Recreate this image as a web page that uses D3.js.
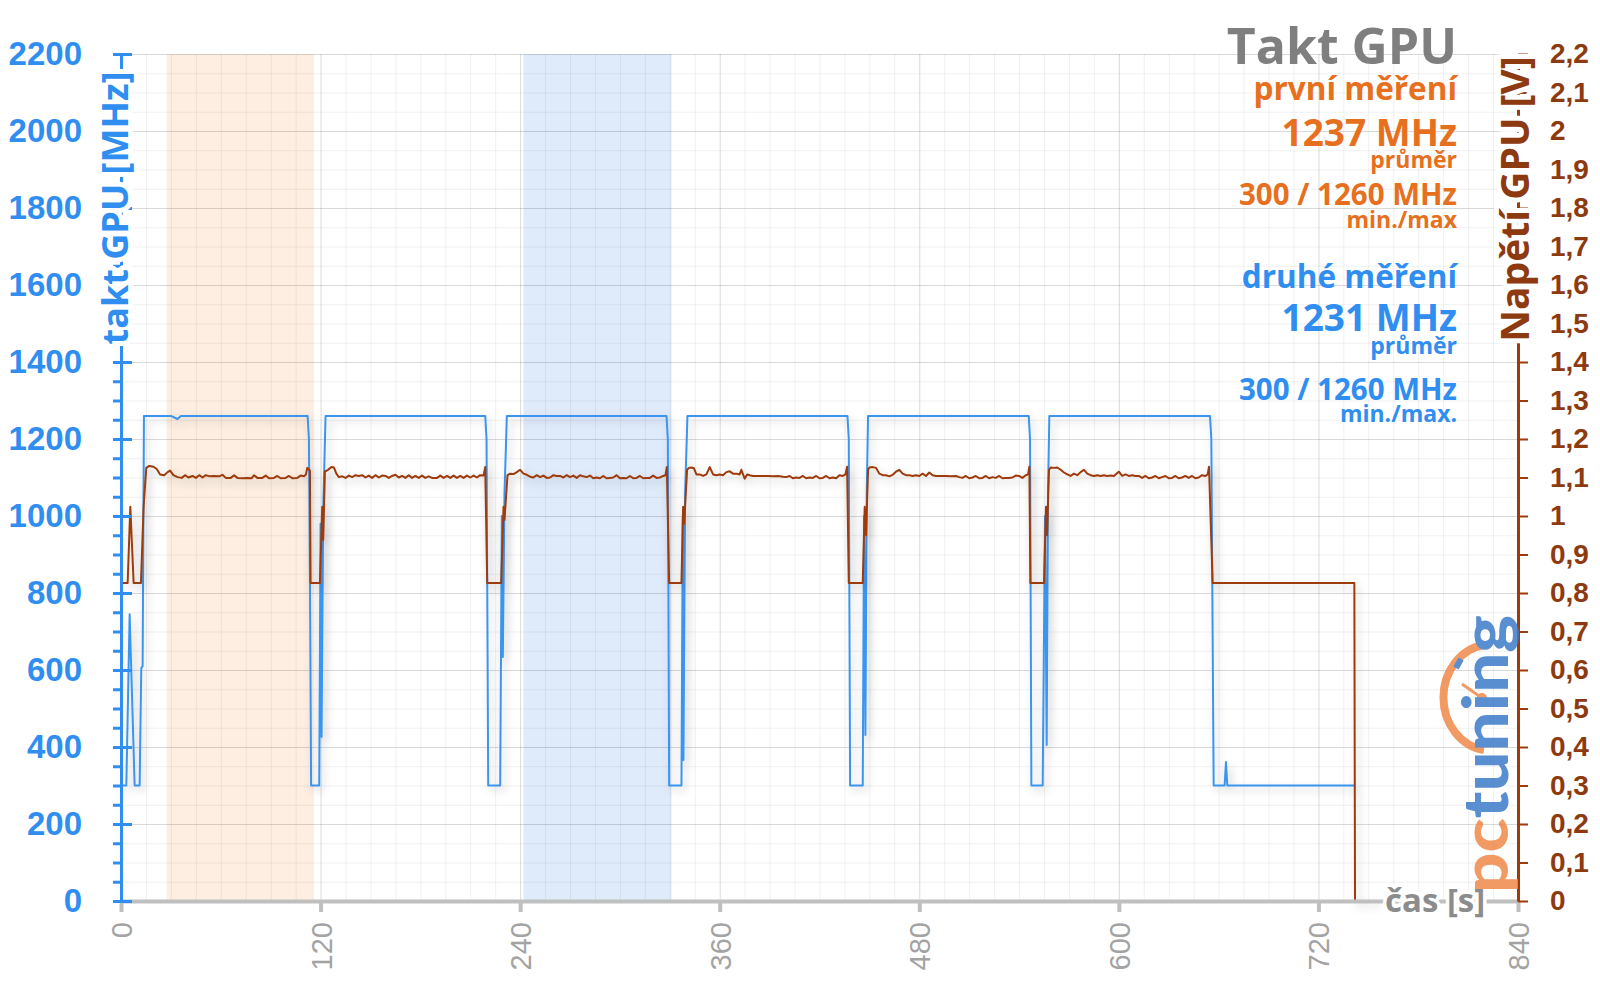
<!DOCTYPE html>
<html>
<head>
<meta charset="utf-8">
<script src="https://cdn.jsdelivr.net/npm/d3@7"></script>
<style>
body { margin: 0; background: #fff; }
svg { display: block; font-family: "Open Sans", sans-serif; }
</style>
</head>
<body>
<div id="chart"></div>
<script>
// data
var timeTicks = [0, 120, 240, 360, 480, 600, 720, 840];
var clockTicks = [0, 200, 400, 600, 800, 1000, 1200, 1400, 1600, 1800, 2000, 2200];
var voltTicks = [0, 0.1, 0.2, 0.3, 0.4, 0.5, 0.6, 0.7, 0.8, 0.9, 1, 1.1, 1.2, 1.3, 1.4, 1.5, 1.6, 1.7, 1.8, 1.9, 2, 2.1, 2.2];
var shadedRuns = [[27.5, 116, 'orange'], [242, 331, 'blue']];

// takt GPU [MHz], druhé měření
var clockPoints = [
  [0, 300], [3.2, 300], [5.2, 745], [8.2, 300], [11.2, 300], [12.2, 605], [13.0, 610], [13.8, 1260],
  [30, 1260], [34, 1252], [36, 1260],
  [112.2, 1260], [113.0, 1200], [113.8, 700], [114.3, 300], [119.2, 300], [120.0, 980], [120.6, 426], [121.6, 1020], [123.0, 1260],
  [219.0, 1260], [219.8, 1200], [220.8, 300], [228.0, 300], [229.0, 1000], [229.6, 634], [230.6, 1060], [232.0, 1260],
  [328.0, 1260], [328.8, 1200], [329.6, 300], [337.0, 300], [337.8, 1000], [338.2, 366], [339.2, 1060], [340.6, 1260],
  [436.8, 1260], [437.6, 1200], [438.4, 300], [446.0, 300], [446.8, 1000], [447.6, 431], [448.4, 1060], [449.2, 1260],
  [545.8, 1260], [546.6, 1200], [547.4, 300], [554.2, 300], [555.6, 1000], [556.6, 405], [557.4, 1060], [558.2, 1260],
  [654.8, 1260], [655.6, 1200], [657.0, 300], [663.6, 300], [664.4, 361], [665.2, 300], [741.6, 300]
];

// Napětí GPU [V]
var voltPoints = [
  [0, 0.826], [4.0, 0.826], [5.6, 1.024], [7.6, 0.826], [12.0, 0.826], [13.6, 1.025], [15.2, 1.125],
  [17, 1.13], [19.5, 1.128], [21.5, 1.122], [23.5, 1.108], [26, 1.106], [28, 1.114], [29.5, 1.118], [31.5, 1.106],
  [34, 1.101], [36.5, 1.099], [38.5, 1.106], [40.5, 1.100], [43, 1.104], [45, 1.099], [47, 1.106], [49, 1.100],
  [51, 1.106], [53.5, 1.103], [56, 1.104], [59, 1.103], [61, 1.107], [63, 1.099], [66, 1.099], [68, 1.106],
  [70, 1.099], [73, 1.098], [76, 1.099], [78.5, 1.098], [80, 1.106], [82, 1.099], [85, 1.099], [87, 1.105],
  [89, 1.098], [92, 1.099], [94, 1.104], [96, 1.098], [99, 1.099], [101, 1.104], [103, 1.098], [106, 1.099],
  [108, 1.105], [110, 1.103], [111.2, 1.108], [112, 1.125], [113.6, 1.118], [114, 0.826],
  [119.6, 0.826], [121, 1.024], [121.6, 0.938], [122.6, 1.115], [124.5, 1.12], [126.5, 1.127], [128, 1.126],
  [129.5, 1.11], [131, 1.101], [133, 1.103], [135, 1.099], [137, 1.105], [139, 1.101], [141, 1.106], [143, 1.104],
  [145, 1.106], [147, 1.100], [149, 1.105], [151, 1.099], [153, 1.106], [155, 1.100], [157, 1.105], [159, 1.104],
  [161, 1.099], [163, 1.104], [165, 1.107], [167, 1.100], [169, 1.104], [171, 1.099], [173, 1.106], [175, 1.099],
  [177, 1.104], [179, 1.099], [181, 1.105], [183, 1.099], [185, 1.103], [187, 1.099], [190, 1.099], [192, 1.105],
  [194, 1.099], [196, 1.104], [198, 1.099], [200, 1.105], [202, 1.099], [204, 1.104], [206, 1.099], [208, 1.105],
  [210, 1.100], [212, 1.105], [214, 1.100], [216, 1.106], [218, 1.105], [219, 1.127], [220.2, 0.826],
  [228.6, 0.826], [230, 1.024], [230.6, 0.99], [232.4, 1.106], [234, 1.110], [236, 1.109], [238, 1.114],
  [240, 1.120], [242, 1.110], [244, 1.107], [246, 1.102], [248, 1.100], [250, 1.106], [252, 1.101], [254, 1.105],
  [256, 1.099], [258, 1.100], [260, 1.106], [262, 1.104], [264, 1.104], [266, 1.100], [268, 1.106], [270, 1.101],
  [272, 1.105], [274, 1.099], [276, 1.106], [278, 1.103], [280, 1.101], [282, 1.105], [284, 1.098], [286, 1.100],
  [288, 1.098], [290, 1.104], [292, 1.098], [294, 1.099], [296, 1.100], [298, 1.106], [300, 1.098], [302, 1.099],
  [304, 1.098], [306, 1.104], [308, 1.098], [310, 1.099], [312, 1.104], [314, 1.098], [316, 1.099], [318, 1.099],
  [320, 1.105], [322, 1.099], [324, 1.100], [326, 1.104], [327.4, 1.106], [328.2, 1.127], [329.6, 0.826],
  [337, 0.826], [338, 1.024], [338.6, 0.98], [340.4, 1.12], [341.5, 1.125], [343, 1.126], [344.5, 1.124],
  [346, 1.108], [348, 1.108], [350, 1.104], [352, 1.108], [354, 1.127], [356, 1.108], [358, 1.106], [360, 1.108],
  [362, 1.106], [364, 1.114], [366, 1.116], [368, 1.110], [370, 1.110], [372, 1.108], [373, 1.120], [375, 1.097],
  [376.5, 1.108], [378, 1.106], [380, 1.104], [383, 1.104], [386, 1.104], [389, 1.104], [392, 1.103], [395, 1.104],
  [398, 1.102], [400, 1.101], [402, 1.104], [404, 1.098], [406, 1.100], [408, 1.099], [410, 1.104], [412, 1.098],
  [414, 1.100], [416, 1.099], [418, 1.104], [420, 1.098], [422, 1.099], [424, 1.104], [426, 1.098], [428, 1.100],
  [430, 1.098], [432, 1.106], [434, 1.104], [435.6, 1.108], [436.6, 1.128], [437.6, 0.826],
  [446, 0.826], [447.2, 1.024], [448, 0.95], [449.2, 1.12], [450, 1.126], [452, 1.127], [454, 1.125], [456, 1.110],
  [458, 1.106], [460, 1.106], [462, 1.103], [464, 1.107], [466, 1.115], [468, 1.120], [470, 1.110], [472, 1.106],
  [474, 1.106], [476, 1.104], [478, 1.106], [480, 1.104], [482, 1.110], [484, 1.104], [486, 1.113], [488, 1.106],
  [490, 1.104], [493, 1.104], [496, 1.104], [499, 1.103], [502, 1.104], [504, 1.101], [506, 1.099], [508, 1.104],
  [510, 1.098], [512, 1.100], [514, 1.104], [516, 1.098], [518, 1.099], [520, 1.104], [522, 1.098], [524, 1.101],
  [526, 1.099], [528, 1.104], [530, 1.098], [532, 1.099], [534, 1.099], [536, 1.100], [538, 1.105], [540, 1.104],
  [542, 1.099], [544, 1.106], [545.4, 1.108], [546.2, 1.128], [546.8, 0.826],
  [555, 0.826], [556.2, 1.024], [556.8, 0.95], [558, 1.12], [559, 1.126], [561, 1.125], [563, 1.126], [565, 1.120],
  [567, 1.113], [569, 1.108], [571, 1.104], [573, 1.110], [575, 1.106], [577, 1.114], [579, 1.120], [581, 1.110],
  [583, 1.106], [585, 1.104], [587, 1.106], [589, 1.104], [591, 1.106], [593, 1.104], [595, 1.105], [597, 1.104],
  [600, 1.115], [602, 1.104], [604, 1.108], [606, 1.104], [608, 1.106], [610, 1.104], [612, 1.104], [614, 1.099],
  [616, 1.104], [618, 1.098], [620, 1.100], [622, 1.104], [624, 1.098], [626, 1.101], [628, 1.104], [630, 1.098],
  [632, 1.099], [634, 1.104], [636, 1.098], [638, 1.100], [640, 1.104], [642, 1.099], [644, 1.104], [646, 1.098],
  [648, 1.100], [650, 1.106], [652, 1.104], [653.4, 1.108], [654.2, 1.128], [656.4, 0.826],
  [741.6, 0.826], [742, 0], [756, 0]
];

var blue = '#2f8ef0', blueLine = '#3a95ef', brown = '#9e3b0b', brownText = '#8e3a10',
    orange = '#e6701e', grey = '#7f7f7f';

var width = 1600, height = 999;
var margin = {top: 54, right: 82, bottom: 98, left: 121};
var plotW = width - margin.left - margin.right;
var plotH = height - margin.top - margin.bottom;

var svg = d3.select('#chart').append('svg')
  .attr('width', width)
  .attr('height', height);

var defs = svg.append('defs');
defs.append('filter').attr('id', 'shadow')
  .attr('x', '-2%').attr('y', '-5%').attr('width', '106%').attr('height', '115%')
  .append('feDropShadow')
  .attr('dx', 3).attr('dy', 4).attr('stdDeviation', 4)
  .attr('flood-color', '#000').attr('flood-opacity', 0.22);

var x = d3.scaleLinear().domain([0, 840]).range([0, plotW]);
var yClock = d3.scaleLinear().domain([0, 2200]).range([plotH, 0]);
var yVolt = d3.scaleLinear().domain([0, 2.2]).range([plotH, 0]);

var g = svg.append('g')
  .attr('transform', 'translate(' + margin.left + ',' + margin.top + ')');

// shaded measurement windows
g.selectAll('.run')
  .data(shadedRuns)
  .enter().append('rect')
  .attr('x', function(d) { return x(d[0]); })
  .attr('y', 0)
  .attr('width', function(d) { return x(d[1]) - x(d[0]); })
  .attr('height', plotH)
  .attr('fill', function(d) { return d[2] == 'orange' ? '#fdeee1' : '#dfebfb'; });

// grid
g.append('g').selectAll('line')
  .data(d3.range(0, 2201, 50))
  .enter().append('line')
  .attr('x1', 0).attr('x2', plotW)
  .attr('y1', function(d) { return yClock(d) + 0.5; })
  .attr('y2', function(d) { return yClock(d) + 0.5; })
  .attr('stroke', function(d) { return d % 200 == 0 ? 'rgba(0,0,0,0.15)' : 'rgba(0,0,0,0.06)'; });

g.append('g').selectAll('line')
  .data(d3.range(15, 840, 15))
  .enter().append('line')
  .attr('y1', 0).attr('y2', plotH)
  .attr('x1', function(d) { return x(d) + 0.5; })
  .attr('x2', function(d) { return x(d) + 0.5; })
  .attr('stroke', function(d) { return d % 120 == 0 ? 'rgba(0,0,0,0.15)' : 'rgba(0,0,0,0.06)'; });

// lines
var clockLine = d3.line()
  .x(function(d) { return x(d[0]); })
  .y(function(d) { return yClock(d[1]); });
var voltLine = d3.line()
  .x(function(d) { return x(d[0]); })
  .y(function(d) { return yVolt(d[1]); });

g.append('path')
  .datum(clockPoints)
  .attr('d', clockLine)
  .attr('fill', 'none')
  .attr('stroke', blueLine)
  .attr('stroke-width', 2)
  .attr('stroke-linejoin', 'round')
  .attr('filter', 'url(#shadow)');

g.append('path')
  .datum(voltPoints)
  .attr('d', voltLine)
  .attr('fill', 'none')
  .attr('stroke', brown)
  .attr('stroke-width', 2)
  .attr('stroke-linejoin', 'round')
  .attr('filter', 'url(#shadow)');

// x axis
var xAxis = g.append('g')
  .attr('class', 'axis axis--x')
  .attr('transform', 'translate(0,' + plotH + ')')
  .call(d3.axisBottom(x).tickValues(timeTicks).tickSize(11).tickSizeOuter(0));
xAxis.select('.domain').attr('stroke', '#bfbfbf').attr('stroke-width', 4);
xAxis.selectAll('.tick line').attr('stroke', '#bfbfbf').attr('stroke-width', 4);
xAxis.selectAll('.tick text')
  .attr('transform', 'rotate(-90)')
  .attr('x', -21).attr('y', 0).attr('dy', '0.36em')
  .attr('text-anchor', 'end')
  .attr('fill', '#a3a3a3')
  .style('font-size', '29px');

// left axis: minor ticks, major ticks crossing the line
var leftMinor = g.append('g')
  .call(d3.axisLeft(yClock).tickValues(d3.range(0, 2201, 50)).tickSize(8).tickFormat(''));
leftMinor.select('.domain').remove();
leftMinor.selectAll('line').attr('stroke', blue).attr('stroke-width', 3);

var leftCross = g.append('g')
  .call(d3.axisRight(yClock).tickValues(clockTicks).tickSize(11).tickFormat(''));
leftCross.select('.domain').remove();
leftCross.selectAll('line').attr('stroke', blue).attr('stroke-width', 3);

var leftAxis = g.append('g')
  .attr('class', 'axis axis--y')
  .call(d3.axisLeft(yClock).tickValues(clockTicks).tickSize(8).tickSizeOuter(0).tickPadding(31)
    .tickFormat(function(d) { return String(d); }));
leftAxis.select('.domain').attr('stroke', blue).attr('stroke-width', 3);
leftAxis.selectAll('.tick line').attr('stroke', blue).attr('stroke-width', 3);
leftAxis.selectAll('.tick text')
  .attr('fill', blue)
  .style('font-size', '33px')
  .style('font-weight', 'bold');

// right axis (voltage)
var rightAxis = g.append('g')
  .attr('transform', 'translate(' + plotW + ',0)')
  .call(d3.axisRight(yVolt).tickValues(voltTicks).tickSize(10).tickSizeOuter(0).tickPadding(22)
    .tickFormat(function(d) { return String(+d.toFixed(1)).replace('.', ','); }));
rightAxis.select('.domain').attr('stroke', brown).attr('stroke-width', 3);
rightAxis.selectAll('.tick line').attr('stroke', brown).attr('stroke-width', 2);
rightAxis.selectAll('.tick text')
  .attr('fill', brownText)
  .style('font-size', '28px')
  .style('font-weight', 'bold');

// axis titles (white halo hides the axis line behind the letters)
function halo(sel, w) {
  return sel.attr('paint-order', 'stroke').attr('stroke', '#fff')
    .attr('stroke-width', w).attr('stroke-linejoin', 'round');
}

halo(svg.append('text')
  .attr('transform', 'translate(128,208) rotate(-90)')
  .attr('text-anchor', 'middle')
  .attr('fill', blue)
  .style('font-size', '36px').style('font-weight', 'bold')
  .text('takt GPU [MHz]'), 10);

halo(svg.append('text')
  .attr('transform', 'translate(1529,199) rotate(-90)')
  .attr('text-anchor', 'middle')
  .attr('fill', brownText)
  .style('font-size', '39px').style('font-weight', 'bold')
  .text('Napětí GPU [V]'), 10);

halo(svg.append('text')
  .attr('x', 1385).attr('y', 912)
  .attr('fill', '#8c8c8c')
  .style('font-size', '33px').style('font-weight', 'bold')
  .text('čas [s]'), 7);

// legend block, right aligned
var legend = [
  ['Takt GPU', grey, 50, 64],
  ['první měření', orange, 31.5, 100],
  ['1237 MHz', orange, 37, 146],
  ['průměr', orange, 23, 168],
  ['300 / 1260 MHz', orange, 29.5, 205],
  ['min./max', orange, 23, 228],
  ['druhé měření', blue, 31.5, 288],
  ['1231 MHz', blue, 37, 331],
  ['průměr', blue, 23, 354],
  ['300 / 1260 MHz', blue, 29.5, 400],
  ['min./max.', blue, 23, 422]
];
svg.append('g').selectAll('text')
  .data(legend)
  .enter().append('text')
  .attr('x', 1457)
  .attr('y', function(d) { return d[3]; })
  .attr('text-anchor', 'end')
  .attr('fill', function(d) { return d[1]; })
  .style('font-size', function(d) { return d[2] + 'px'; })
  .style('font-weight', 'bold')
  .text(function(d) { return d[0]; });

// pctuning watermark
var logo = svg.append('g').attr('opacity', 0.85);
logo.append('path')
  .attr('d', 'M1484,645 A47,53 0 0,0 1484,750')
  .attr('fill', 'none')
  .attr('stroke', '#f0894a')
  .attr('stroke-width', 8);
logo.append('path')
  .attr('d', 'M1456,668 L1461,659')
  .attr('stroke', '#3d7cc9')
  .attr('stroke-width', 6);
logo.append('line')
  .attr('x1', 1462).attr('y1', 684).attr('x2', 1482).attr('y2', 698)
  .attr('stroke', '#f0894a').attr('stroke-width', 3);
logo.append('circle')
  .attr('cx', 1482).attr('cy', 698).attr('r', 5)
  .attr('fill', '#f0894a');
var logoText = logo.append('text')
  .attr('transform', 'translate(1508,893) rotate(-90)')
  .attr('textLength', 278)
  .attr('lengthAdjust', 'spacingAndGlyphs')
  .style('font-family', 'Lato, sans-serif')
  .style('font-size', '62px')
  .style('font-weight', '900');
logoText.append('tspan').attr('fill', '#f0894a').text('pc');
logoText.append('tspan').attr('fill', '#3d7cc9').text('tuning');
</script>
</body>
</html>
